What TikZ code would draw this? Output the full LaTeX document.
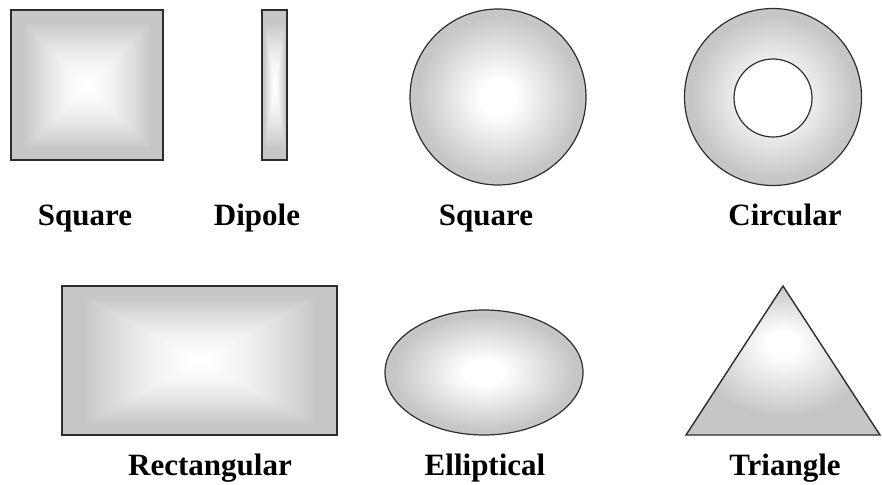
\documentclass[tikz,border=0pt]{standalone}
\usepackage{fontspec}
\setmainfont{Liberation Serif}
\usepackage{tikz}
\usetikzlibrary{shapes.geometric,positioning}
\definecolor{edgegray}{RGB}{198,198,198}
\definecolor{linegray}{RGB}{45,45,45}

% white centre fading to grey towards the sides
\pgfdeclarefunctionalshading{pyramid}{\pgfpoint{-50bp}{-50bp}}{\pgfpoint{50bp}{50bp}}{}{
  abs exch abs 2 copy lt {exch} if pop
  21 div dup 1 gt {pop 1} if
  dup sqrt mul
  0.22 mul 1 exch sub dup dup
}
\pgfdeclareradialshading{ball}{\pgfpoint{0bp}{0bp}}{color(0bp)=(white); color(5bp)=(white); color(23bp)=(edgegray); color(50bp)=(edgegray)}
\pgfdeclareradialshading{peak}{\pgfpoint{0bp}{6bp}}{color(0bp)=(white); color(4bp)=(white); color(22bp)=(edgegray); color(50bp)=(edgegray)}

\begin{document}
\begin{tikzpicture}[
        x=1pt, y=-1pt,
        flatbox/.style={rectangle, draw=linegray, line width=1.6pt, shading=pyramid,
            inner sep=0pt, minimum width=#1},
        ballshape/.style={circle, draw=linegray, line width=1.2pt, shading=ball,
            inner sep=0pt, minimum size=#1},
        labeltext/.style={anchor=base, font=\fontsize{31}{36}\selectfont\bfseries}
    ]
        \useasboundingbox (0,0) rectangle (882,484);

        % Top row
        \node[flatbox=152pt, minimum height=150pt] (square) at (87,85) {};
        \node[flatbox=25pt, minimum height=150pt] (dipole) at (274.5,85) {};
        \node[ballshape=176pt] (disc) at (498,97) {};
        \node[ballshape=177pt] (ring) at (773,97) {};
        \node[circle, draw=linegray, line width=1.2pt, fill=white, inner sep=0pt,
            minimum size=78pt] (hole) at (773,98) {};

        % Bottom row
        \node[flatbox=275pt, minimum height=149pt] (rect) at (199.5,360.5) {};
        \node[ellipse, draw=linegray, line width=1.2pt, shading=ball, inner sep=0pt,
            minimum width=198pt, minimum height=125pt] (ellip) at (484,372.5) {};
        \coordinate (tl) at (686,435);
        \coordinate (tt) at (783,286);
        \coordinate (tr) at (880,435);
        \shade[shading=peak, draw=linegray, line width=1.4pt, line join=miter]
            (tl) -- (tt) -- (tr) -- cycle;

        % Labels
        \node[labeltext] (lsquare) at (85,225) {Square};
        \node[labeltext] (ldipole) at (257,225) {Dipole};
        \node[labeltext] (ldisc) at (486,225) {Square};
        \node[labeltext] (lring) at (785,225) {Circular};
        \node[labeltext] (lrect) at (210,475) {Rectangular};
        \node[labeltext] (lellip) at (485,475) {Elliptical};
        \node[labeltext] (ltri) at (785,475) {Triangle};
    \end{tikzpicture}
\end{document}
